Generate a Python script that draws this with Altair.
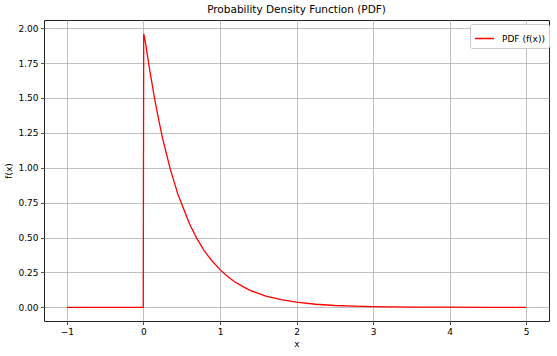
import altair as alt
import pandas as pd

x_vals = [-1.0, -0.003, 0.003, 0.025, 0.05, 0.075, 0.1, 0.15, 0.2, 0.25, 0.3, 0.35, 0.4,
          0.45, 0.5, 0.55, 0.6, 0.65, 0.7, 0.75, 0.8, 0.85, 0.9, 0.95, 1.0, 1.1, 1.2,
          1.3, 1.4, 1.5, 1.6, 1.7, 1.8, 2.0, 2.25, 2.5, 2.75, 3.0, 3.5, 4.0, 4.5, 5.0]
y_vals = [0.0, 0.0, 1.96, 1.90, 1.81, 1.72, 1.64, 1.48, 1.34, 1.21, 1.10, 0.99, 0.90,
          0.81, 0.74, 0.67, 0.60, 0.545, 0.49, 0.445, 0.40, 0.365, 0.33, 0.30, 0.27,
          0.22, 0.18, 0.148, 0.12, 0.10, 0.08, 0.067, 0.055, 0.037, 0.022, 0.013,
          0.008, 0.005, 0.002, 0.001, 0.0003, 0.0001]
series = ["PDF (f(x))"] * len(x_vals)
x_ticks = [-1, 0, 1, 2, 3, 4, 5]
y_ticks = [0, 0.25, 0.5, 0.75, 1.0, 1.25, 1.5, 1.75, 2.0]

df = pd.DataFrame({"x": x_vals, "y": y_vals, "s": series, "o": list(range(len(x_vals)))})

font = "DejaVu Sans"

chart = alt.Chart(df).mark_line(strokeWidth=1.3, clip=True).encode(
    x=alt.X("x:Q", scale=alt.Scale(domain=[-1.3, 5.3], nice=False, zero=False),
            axis=alt.Axis(values=x_ticks, format="d", title="x",
                          labelExpr="replace(datum.label, '-', '\u2212')")),
    y=alt.Y("y:Q", scale=alt.Scale(domain=[-0.098, 2.058], nice=False, zero=False),
            axis=alt.Axis(values=y_ticks, format=".2f", title="f(x)")),
    color=alt.Color("s:N", scale=alt.Scale(range=["#ff0000"]),
                    legend=alt.Legend(title=None, orient="none", legendX=426, legendY=4,
                                      symbolType="stroke",
                                      symbolStrokeWidth=1.5, symbolSize=361,
                                      labelOffset=7,
                                      fillColor="white", strokeColor="#cccccc",
                                      padding=4, cornerRadius=2,
                                      labelFont=font, labelFontSize=9, labelColor="#000")),
    order="o:Q",
).properties(
    width=505, height=301,
    title=alt.TitleParams("Probability Density Function (PDF)", font=font, fontSize=10.5,
                          fontWeight="normal", color="#000", offset=5),
    autosize=alt.AutoSizeParams(type="none"),
    padding={"left": 44, "top": 20, "right": 8, "bottom": 35},
).configure_view(
    stroke="#222222", strokeWidth=1
).configure_axis(
    grid=True, gridColor="#b0b0b0", gridWidth=0.8, domain=False,
    tickColor="#222", tickSize=3.5, tickWidth=0.8,
    labelFont=font, labelFontSize=9, labelColor="#000", labelPadding=2.5,
    titleFont=font, titleFontSize=9, titleFontWeight="normal", titleColor="#000",
).configure_axisX(titlePadding=3).configure_axisY(titlePadding=4)

chart.save("out.html", embed_options={"renderer": "svg", "actions": False})
